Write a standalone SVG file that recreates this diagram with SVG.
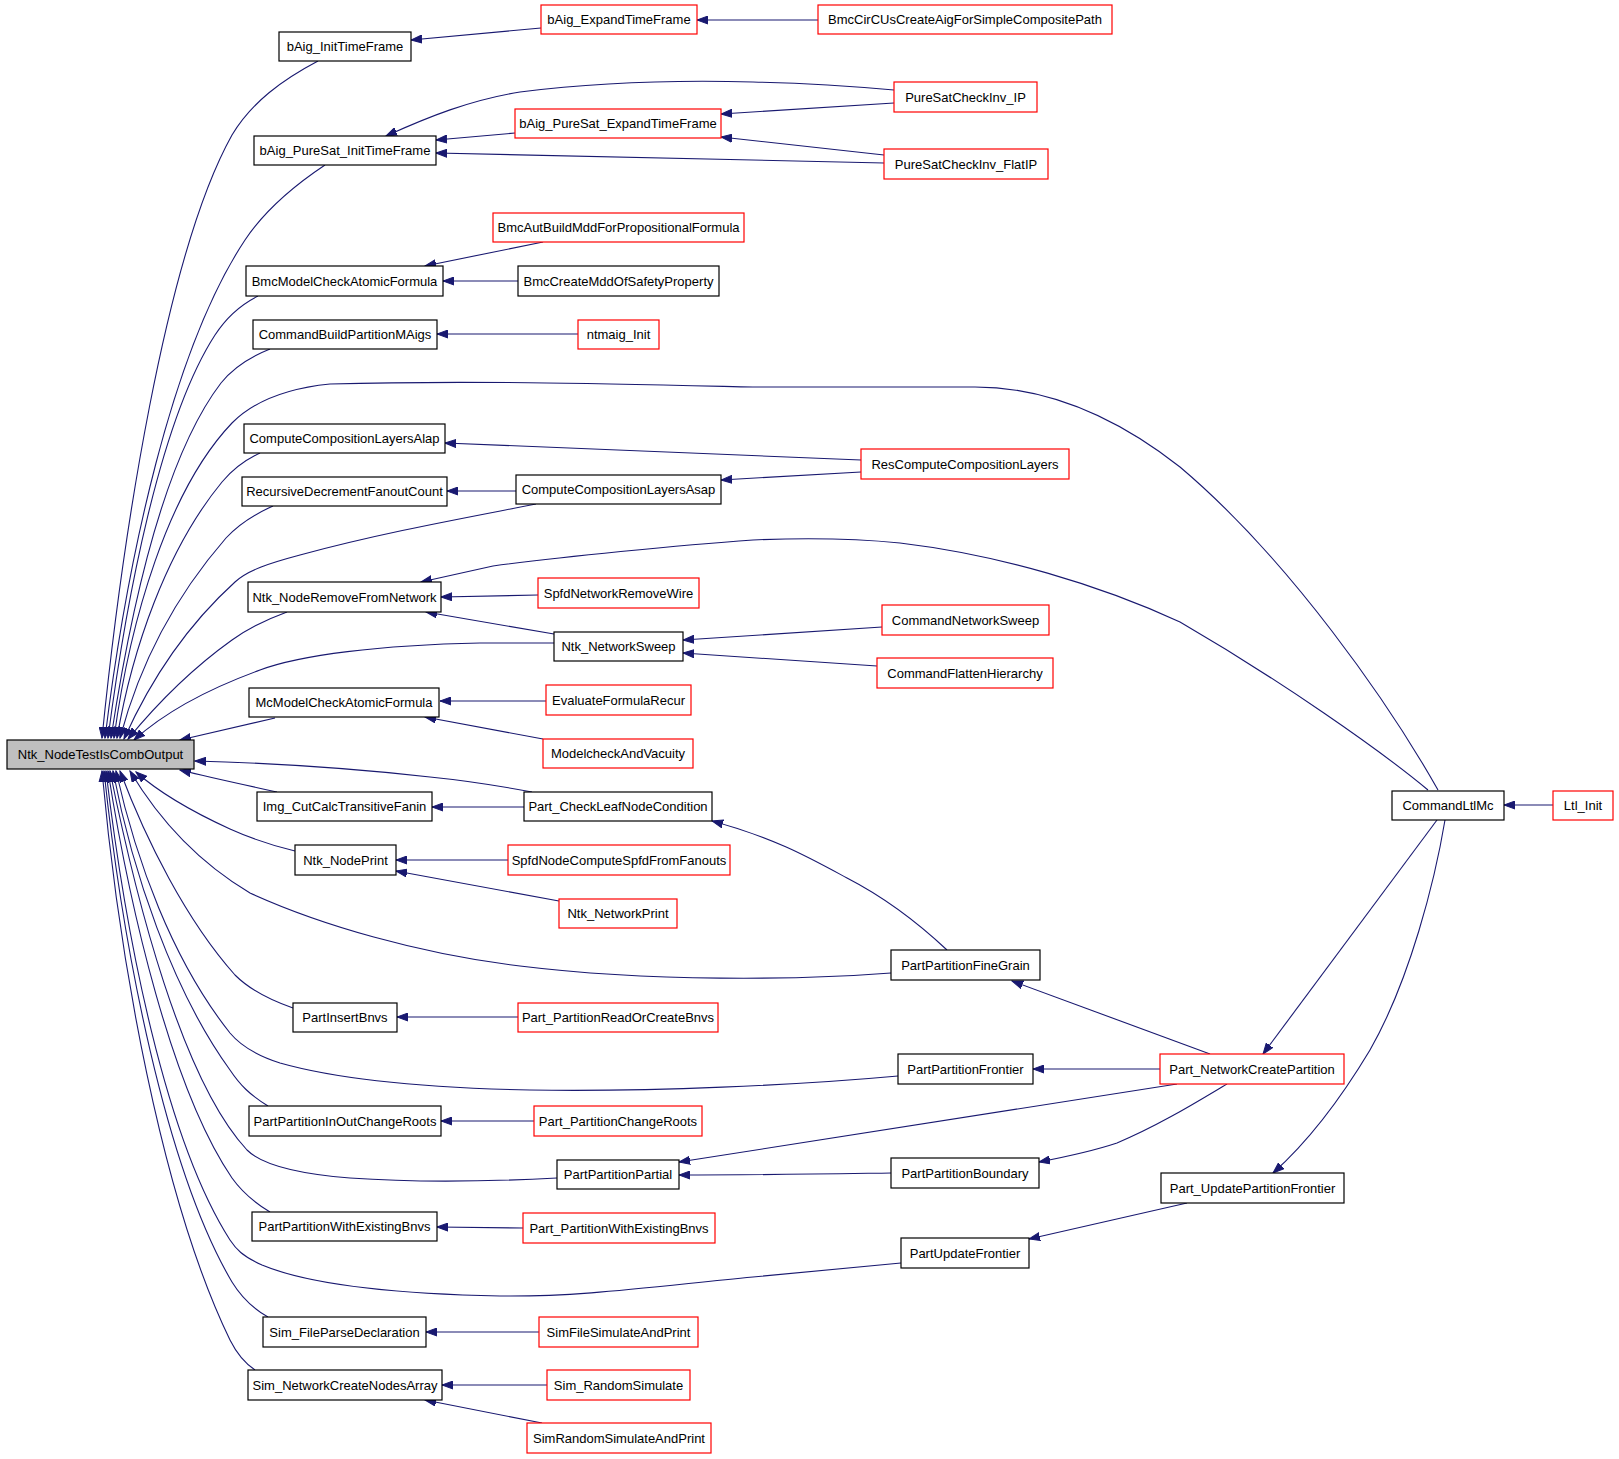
<svg xmlns="http://www.w3.org/2000/svg" width="1619" height="1459" viewBox="0 0 1619 1459">
<defs>
<style>
.n rect{fill:#ffffff;stroke:#000000;stroke-width:1.2}
.r rect{fill:#ffffff;stroke:#ff0000;stroke-width:1.2}
.g rect{fill:#bfbfbf;stroke:#000000;stroke-width:1.2}
text{font-family:"Liberation Sans",Arial,Helvetica,sans-serif;font-size:13px;fill:#000000;text-anchor:middle}
.e path{fill:none;stroke:#191970;stroke-width:1.1;marker-end:url(#a)}
</style>
<marker id="a" markerWidth="12" markerHeight="9" refX="11" refY="4.5" orient="auto" markerUnits="userSpaceOnUse">
<path d="M0,0.5 L11,4.5 L0,8.5 z" fill="#191970" stroke="#191970" stroke-width="1"/>
</marker>
</defs>
<rect x="0" y="0" width="1619" height="1459" fill="#ffffff"/>
<g id="edges" class="e">
<!-- into Ntk_NodeTestIsCombOutput from above -->
<path d="M318,61 C 282,80 252,102 232,135 C 165,255 122,540 102,738"/>
<path d="M325,165 C 295,185 265,210 245,240 C 172,350 127,560 105,738"/>
<path d="M258,296 C 240,305 226,318 215,335 C 160,420 126,600 108,738"/>
<path d="M270,349 C 250,357 233,368 221,383 C 162,460 129,620 111,738"/>
<path d="M1438,790 C 1390,705 1290,560 1180,467 C 1120,420 1050,387 975,387 L 753,387 C 620,384 470,380 330,384 C 290,388 255,400 232,423 C 168,490 130,620 114,738"/>
<path d="M260,453 C 245,460 232,470 222,482 C 166,550 132,650 117,738"/>
<path d="M273,506 C 255,514 238,525 226,538 C 172,600 138,670 120,738"/>
<path d="M536,504 C 470,517 380,533 300,555 C 270,563 248,570 235,582 C 182,630 146,690 124,739"/>
<path d="M287,612 C 265,620 246,630 232,640 C 190,670 156,705 128,739"/>
<path d="M554,643 L 480,643 C 380,645 300,655 260,670 C 205,690 165,712 134,740"/>
<path d="M275,718 C 250,724 215,732 180,740"/>
<!-- into right side -->
<path d="M532,792 C 500,786 470,781 430,777 C 350,768 270,763 195,761"/>
<!-- into Ntk from below -->
<path d="M277,792 C 250,786 212,778 180,770"/>
<path d="M295,851 C 270,845 250,838 230,829 C 195,813 162,795 136,772"/>
<path d="M891,973 C 800,980 650,982 520,966 C 420,954 320,925 250,893 C 198,862 158,818 130,771"/>
<path d="M293,1008 C 270,1000 250,990 235,975 C 186,920 146,840 120,771"/>
<path d="M898,1076 C 800,1085 650,1092 530,1090 C 430,1088 340,1080 280,1063 C 255,1055 240,1045 230,1033 C 172,960 136,860 116,771"/>
<path d="M268,1106 C 250,1095 240,1085 230,1070 C 172,990 132,870 113,771"/>
<path d="M557,1178 C 500,1181 420,1183 350,1178 C 300,1174 262,1165 247,1150 C 182,1080 136,900 110,771"/>
<path d="M270,1212 C 255,1203 242,1192 232,1178 C 172,1090 130,910 108,771"/>
<path d="M901,1263 C 850,1268 800,1273 753,1277 C 650,1287 580,1297 500,1296 C 400,1294 310,1285 262,1265 C 242,1256 236,1249 230,1240 C 166,1140 126,940 106,771"/>
<path d="M268,1317 C 252,1308 240,1295 232,1282 C 166,1170 123,950 104,771"/>
<path d="M255,1370 C 243,1362 236,1352 230,1340 C 162,1200 119,960 102,771"/>
<!-- other edges -->
<path d="M541,28 L 411,40"/>
<path d="M818,20 L 697,20"/>
<path d="M894,90 C 850,86 800,83 753,82 C 680,80 600,82 520,92 C 470,100 428,117 386,136"/>
<path d="M515,133 L 436,140"/>
<path d="M884,163 L 436,153"/>
<path d="M894,103 L 721,114"/>
<path d="M884,155 L 721,137"/>
<path d="M543,242 L 425,266"/>
<path d="M518,281 L 443,281"/>
<path d="M578,334 L 437,334"/>
<path d="M861,460 L 445,443"/>
<path d="M861,472 L 721,480"/>
<path d="M516,491 L 447,491"/>
<path d="M1428,790 C 1380,750 1280,680 1180,622 C 1100,585 1000,555 900,543 C 850,538 800,538 753,540 C 680,545 560,557 493,566 L 421,582"/>
<path d="M538,595 L 441,597"/>
<path d="M554,634 L 426,612"/>
<path d="M882,627 L 683,640"/>
<path d="M877,666 L 683,653"/>
<path d="M546,701 L 440,701"/>
<path d="M543,739 L 425,717"/>
<path d="M524,807 L 432,807"/>
<path d="M947,950 C 915,920 880,895 847,878 C 810,858 775,838 712,821"/>
<path d="M508,860 L 396,860"/>
<path d="M559,901 L 396,871"/>
<path d="M518,1017 L 397,1017"/>
<path d="M1210,1054 L 1012,981"/>
<path d="M1160,1069 L 1033,1069"/>
<path d="M1177,1084 L 679,1162"/>
<path d="M1227,1084 C 1200,1100 1160,1125 1117,1143 C 1090,1152 1065,1157 1039,1162"/>
<path d="M891,1173 C 820,1174 760,1175 679,1175"/>
<path d="M534,1121 L 441,1121"/>
<path d="M523,1228 L 437,1227"/>
<path d="M1187,1203 L 1029,1239"/>
<path d="M1437,820 L 1263,1054"/>
<path d="M1445,820 C 1435,880 1410,980 1370,1050 C 1340,1100 1310,1140 1273,1173"/>
<path d="M1553,805 L 1504,805"/>
<path d="M539,1332 L 426,1332"/>
<path d="M547,1385 L 442,1385"/>
<path d="M542,1423 L 425,1400"/>
</g>
<g id="n1" class="g"><rect x="7" y="740" width="187" height="29"/><text x="100.5" y="759">Ntk_NodeTestIsCombOutput</text></g>
<g id="n2" class="n"><rect x="279" y="32" width="132" height="29"/><text x="345" y="51">bAig_InitTimeFrame</text></g>
<g id="n3" class="r"><rect x="541" y="5" width="156" height="29"/><text x="619" y="24">bAig_ExpandTimeFrame</text></g>
<g id="n4" class="r"><rect x="818" y="5" width="294" height="29"/><text x="965" y="24">BmcCirCUsCreateAigForSimpleCompositePath</text></g>
<g id="n5" class="n"><rect x="254" y="136" width="182" height="29"/><text x="345" y="155">bAig_PureSat_InitTimeFrame</text></g>
<g id="n6" class="r"><rect x="515" y="109" width="206" height="29"/><text x="618" y="128">bAig_PureSat_ExpandTimeFrame</text></g>
<g id="n7" class="r"><rect x="894" y="82" width="143" height="30"/><text x="965.5" y="101.5">PureSatCheckInv_IP</text></g>
<g id="n8" class="r"><rect x="884" y="149" width="164" height="30"/><text x="966" y="168.5">PureSatCheckInv_FlatIP</text></g>
<g id="n9" class="r"><rect x="493" y="213" width="251" height="29"/><text x="618.5" y="232">BmcAutBuildMddForPropositionalFormula</text></g>
<g id="n10" class="n"><rect x="246" y="266" width="197" height="30"/><text x="344.5" y="285.5">BmcModelCheckAtomicFormula</text></g>
<g id="n11" class="n"><rect x="518" y="266" width="201" height="30"/><text x="618.5" y="285.5">BmcCreateMddOfSafetyProperty</text></g>
<g id="n12" class="n"><rect x="253" y="320" width="184" height="29"/><text x="345" y="339">CommandBuildPartitionMAigs</text></g>
<g id="n13" class="r"><rect x="578" y="320" width="81" height="29"/><text x="618.5" y="339">ntmaig_Init</text></g>
<g id="n14" class="n"><rect x="244" y="424" width="201" height="29"/><text x="344.5" y="443">ComputeCompositionLayersAlap</text></g>
<g id="n15" class="n"><rect x="242" y="477" width="205" height="29"/><text x="344.5" y="496">RecursiveDecrementFanoutCount</text></g>
<g id="n16" class="n"><rect x="516" y="475" width="205" height="29"/><text x="618.5" y="494">ComputeCompositionLayersAsap</text></g>
<g id="n17" class="r"><rect x="861" y="449" width="208" height="30"/><text x="965" y="468.5">ResComputeCompositionLayers</text></g>
<g id="n18" class="n"><rect x="248" y="582" width="193" height="30"/><text x="344.5" y="601.5">Ntk_NodeRemoveFromNetwork</text></g>
<g id="n19" class="r"><rect x="538" y="578" width="161" height="30"/><text x="618.5" y="597.5">SpfdNetworkRemoveWire</text></g>
<g id="n20" class="n"><rect x="554" y="632" width="129" height="29"/><text x="618.5" y="651">Ntk_NetworkSweep</text></g>
<g id="n21" class="r"><rect x="882" y="605" width="167" height="30"/><text x="965.5" y="624.5">CommandNetworkSweep</text></g>
<g id="n22" class="r"><rect x="877" y="658" width="176" height="30"/><text x="965" y="677.5">CommandFlattenHierarchy</text></g>
<g id="n23" class="n"><rect x="249" y="688" width="190" height="29"/><text x="344" y="707">McModelCheckAtomicFormula</text></g>
<g id="n24" class="r"><rect x="546" y="685" width="145" height="30"/><text x="618.5" y="704.5">EvaluateFormulaRecur</text></g>
<g id="n25" class="r"><rect x="543" y="739" width="150" height="29"/><text x="618" y="758">ModelcheckAndVacuity</text></g>
<g id="n26" class="n"><rect x="257" y="792" width="175" height="29"/><text x="344.5" y="811">Img_CutCalcTransitiveFanin</text></g>
<g id="n27" class="n"><rect x="524" y="792" width="188" height="29"/><text x="618" y="811">Part_CheckLeafNodeCondition</text></g>
<g id="n28" class="n"><rect x="295" y="845" width="101" height="30"/><text x="345.5" y="864.5">Ntk_NodePrint</text></g>
<g id="n29" class="r"><rect x="508" y="845" width="222" height="30"/><text x="619" y="864.5">SpfdNodeComputeSpfdFromFanouts</text></g>
<g id="n30" class="r"><rect x="559" y="899" width="118" height="29"/><text x="618" y="918">Ntk_NetworkPrint</text></g>
<g id="n31" class="n"><rect x="891" y="950" width="149" height="30"/><text x="965.5" y="969.5">PartPartitionFineGrain</text></g>
<g id="n32" class="n"><rect x="293" y="1003" width="104" height="29"/><text x="345" y="1022">PartInsertBnvs</text></g>
<g id="n33" class="r"><rect x="518" y="1003" width="200" height="29"/><text x="618" y="1022">Part_PartitionReadOrCreateBnvs</text></g>
<g id="n34" class="n"><rect x="898" y="1054" width="135" height="30"/><text x="965.5" y="1073.5">PartPartitionFrontier</text></g>
<g id="n35" class="r"><rect x="1160" y="1054" width="184" height="30"/><text x="1252" y="1073.5">Part_NetworkCreatePartition</text></g>
<g id="n36" class="n"><rect x="249" y="1106" width="192" height="30"/><text x="345" y="1125.5">PartPartitionInOutChangeRoots</text></g>
<g id="n37" class="r"><rect x="534" y="1106" width="168" height="30"/><text x="618" y="1125.5">Part_PartitionChangeRoots</text></g>
<g id="n38" class="n"><rect x="557" y="1160" width="122" height="29"/><text x="618" y="1179">PartPartitionPartial</text></g>
<g id="n39" class="n"><rect x="891" y="1158" width="148" height="30"/><text x="965" y="1177.5">PartPartitionBoundary</text></g>
<g id="n40" class="n"><rect x="1161" y="1173" width="183" height="30"/><text x="1252.5" y="1192.5">Part_UpdatePartitionFrontier</text></g>
<g id="n41" class="n"><rect x="252" y="1212" width="185" height="29"/><text x="344.5" y="1231">PartPartitionWithExistingBnvs</text></g>
<g id="n42" class="r"><rect x="523" y="1213" width="192" height="30"/><text x="619" y="1232.5">Part_PartitionWithExistingBnvs</text></g>
<g id="n43" class="n"><rect x="901" y="1238" width="128" height="30"/><text x="965" y="1257.5">PartUpdateFrontier</text></g>
<g id="n44" class="n"><rect x="263" y="1317" width="163" height="30"/><text x="344.5" y="1336.5">Sim_FileParseDeclaration</text></g>
<g id="n45" class="r"><rect x="539" y="1317" width="159" height="30"/><text x="618.5" y="1336.5">SimFileSimulateAndPrint</text></g>
<g id="n46" class="n"><rect x="248" y="1370" width="194" height="30"/><text x="345" y="1389.5">Sim_NetworkCreateNodesArray</text></g>
<g id="n47" class="r"><rect x="547" y="1370" width="143" height="30"/><text x="618.5" y="1389.5">Sim_RandomSimulate</text></g>
<g id="n48" class="r"><rect x="527" y="1423" width="184" height="30"/><text x="619" y="1442.5">SimRandomSimulateAndPrint</text></g>
<g id="n49" class="n"><rect x="1392" y="791" width="112" height="29"/><text x="1448" y="810">CommandLtlMc</text></g>
<g id="n50" class="r"><rect x="1553" y="791" width="60" height="29"/><text x="1583" y="810">Ltl_Init</text></g>
</svg>
